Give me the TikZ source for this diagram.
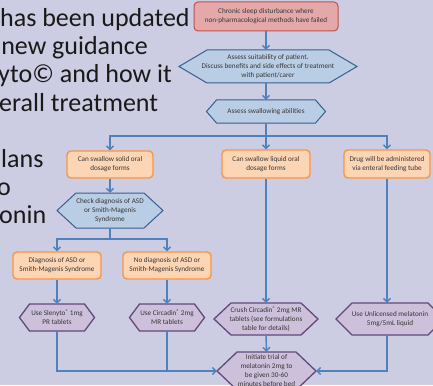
\documentclass[tikz,border=0pt]{standalone}
\usepackage{fontspec}
\setmainfont{Carlito}
\usetikzlibrary{arrows.meta}
\definecolor{bg}{RGB}{204,204,226}
\definecolor{conncol}{RGB}{79,129,189}
\definecolor{redfill}{RGB}{229,168,168}
\definecolor{redline}{RGB}{192,80,77}
\definecolor{bluefill}{RGB}{185,205,229}
\definecolor{blueline}{RGB}{55,96,146}
\definecolor{orangefill}{RGB}{252,213,181}
\definecolor{orangeline}{RGB}{247,150,70}
\definecolor{purplefill}{RGB}{204,192,218}
\definecolor{purpleline}{RGB}{96,74,123}
\definecolor{txt}{RGB}{55,55,55}
\newcommand{\regmark}{\raisebox{2.2pt}{\fontsize{5.5}{5}\selectfont ®}}
\tikzset{
  boxtext/.style={inner sep=0pt, align=center, text=txt, font=\fontsize{7.2}{9}\selectfont},
  bigtext/.style={inner sep=0pt, text=black!90, font=\fontsize{26}{28}\selectfont},
  redbox/.style={boxtext, draw=redline, fill=redfill, line width=1pt, rounded corners=4pt},
  orangebox/.style={boxtext, draw=orangeline, fill=orangefill, line width=1.4pt, rounded corners=4pt},
  bluehex/.style={draw=blueline, fill=bluefill, line width=1pt},
  purplehex/.style={draw=purpleline, fill=purplefill, line width=1.3pt},
  conn/.style={draw=conncol, line width=1.4pt, -{Straight Barb[length=3.5pt,width=7pt]}},
  plainline/.style={draw=conncol, line width=1.4pt}
}
% #1 name, #2 x, #3 y, #4 w, #5 h, #6 depth, #7 style, #8 text
\newcommand{\hexbox}[8]{%
  \path[#7] ({#2-#4/2},#3) -- ({#2-#4/2+#6},{#3-#5/2}) -- ({#2+#4/2-#6},{#3-#5/2}) -- ({#2+#4/2},#3) -- ({#2+#4/2-#6},{#3+#5/2}) -- ({#2-#4/2+#6},{#3+#5/2}) -- cycle;
  \node[boxtext, minimum width=#4pt, minimum height=#5pt] (#1) at (#2,#3) {#8};
}
\begin{document}
\begin{tikzpicture}[x=1pt,y=-1pt]
\useasboundingbox (0,0) rectangle (433,385);
\fill[bg] (0,0) rectangle (433,385);
\clip (0,0) rectangle (433,385);

% left big text
\node[bigtext, anchor=base west] (t1) at (0,27) {has been updated};
\node[bigtext, anchor=base east] (t2) at (148,55) {new guidance};
\node[bigtext, anchor=base west] (t3) at (-2,83) {yto© and how it};
\node[bigtext, anchor=base west] (t4) at (-1,111) {erall treatment};
\node[bigtext, anchor=base west] (t5) at (1,167) {lans};
\node[bigtext, anchor=base west] (t6) at (-3,195) {o};
\node[bigtext, anchor=base west] (t7) at (-1,223) {onin};

% top
\node[redbox, minimum width=144pt, minimum height=29pt] (start) at (266,16.5)
  {Chronic sleep disturbance where\\non-pharmacological methods have failed};
\hexbox{suit}{268}{66.5}{178}{33}{28}{bluehex}{Assess suitability of patient.\\Discuss benefits and side effects of treatment\\with patient/carer}
\hexbox{swallow}{266}{111.5}{119}{23}{10}{bluehex}{Assess swallowing abilities}

% three options
\node[orangebox, minimum width=86pt, minimum height=27pt] (solid) at (110,164.5)
  {Can swallow solid oral\\dosage forms};
\node[orangebox, minimum width=88pt, minimum height=28pt] (liquid) at (266,164)
  {Can swallow liquid oral\\dosage forms};
\node[orangebox, minimum width=86pt, minimum height=28pt] (enteral) at (387,164)
  {Drug will be administered\\via enteral feeding tube};

\hexbox{check}{110}{210.5}{106}{35}{19}{bluehex}{Check diagnosis of ASD\\or Smith-Magenis\\Syndrome}

\node[orangebox, minimum width=88pt, minimum height=27pt] (diag) at (57,265.5)
  {Diagnosis of ASD or\\Smith-Magenis Syndrome};
\node[orangebox, minimum width=88pt, minimum height=27pt] (nodiag) at (167,265.5)
  {No diagnosis of ASD or\\Smith-Magenis Syndrome};

\hexbox{slenyto}{57}{317.5}{75}{27}{10}{purplehex}{Use Slenyto\regmark\ 1mg\\PR tablets}
\hexbox{circadin}{167}{317.5}{75}{27}{10}{purplehex}{Use Circadin\regmark\ 2mg\\MR tablets}
\hexbox{crush}{266}{319}{104}{32}{17}{purplehex}{Crush Circadin\regmark\ 2mg MR\\tablets (see formulations\\table for details)}
\hexbox{unlic}{390}{319}{108}{32}{16}{purplehex}{Use Unlicensed melatonin\\5mg/5mL liquid}
\hexbox{final}{266.5}{371}{99}{38}{20}{purplehex}{Initiate trial of\\melatonin 2mg to\\be given 30-60\\minutes before bed}

% connectors
\draw[conn] (start.south -| swallow.north) -- (swallow.north |- suit.north);
\draw[conn] (swallow.north |- suit.south) -- (swallow.north);
\coordinate (j1) at (266,136);
\draw[plainline] (swallow.south) -- (j1);
\draw[conn] (j1) -| (solid.north);
\draw[conn] (j1) -- (liquid.north);
\draw[conn] (j1) -| (enteral.north);

\draw[conn] (solid.south) -- (check.north);
\coordinate (j2) at (110,239);
\draw[plainline] (check.south) -- (j2);
\draw[conn] (j2) -| (diag.north);
\draw[conn] (j2) -| (nodiag.north);

\draw[conn] (diag.south) -- (slenyto.north);
\draw[conn] (nodiag.south) -- (circadin.north);
\draw[conn] (liquid.south) -- (crush.north);
\draw[conn] (enteral.south) -- (enteral.south |- unlic.north);

\draw[conn] (slenyto.south) |- (final.west);
\draw[plainline] (circadin.south) -- (circadin.south |- final.west);
\draw[conn] (crush.south) -- (final.north);
\draw[conn] (enteral.south |- unlic.south) |- (final.east);
\end{tikzpicture}
\end{document}
